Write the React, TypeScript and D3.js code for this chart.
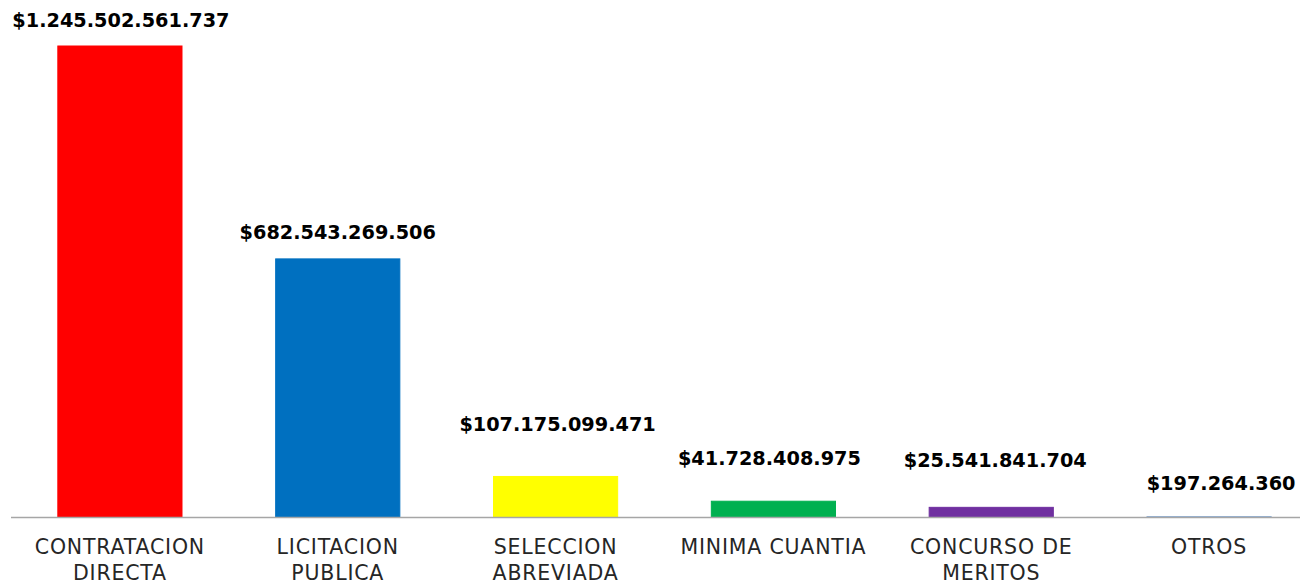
import React, { useEffect, useRef } from "react";
import * as d3 from "d3";

// modalidades de contratacion
const categories = [
  ["CONTRATACION", "DIRECTA"],
  ["LICITACION", "PUBLICA"],
  ["SELECCION", "ABREVIADA"],
  ["MINIMA CUANTIA"],
  ["CONCURSO DE", "MERITOS"],
  ["OTROS"],
];
const values = [
  1245502561737, 682543269506, 107175099471, 41728408975, 25541841704, 197264360,
];
const valueLabels = [
  "$1.245.502.561.737",
  "$682.543.269.506",
  "$107.175.099.471",
  "$41.728.408.975",
  "$25.541.841.704",
  "$197.264.360",
];
const colors = ["#FF0000", "#0070C0", "#FFFF00", "#00B050", "#7030A0", "#4F81BD"];

// labels were dragged by hand in the original, so keep their offsets (px)
const labelDy = [19, 20, 45, 36, 40, 27];
const labelDx = [1, 0, 2, -4, 4, 12];

const width = 1300;
const height = 583;

const App = () => {
  const svgRef = useRef<SVGSVGElement>(null);

  useEffect(() => {
    const svg = d3.select(svgRef.current);
    svg.selectAll("*").remove();

    const idx = values.map((_, i) => i);

    const x = d3
      .scaleBand<number>()
      .domain(idx)
      .range([11, 1318])
      .paddingInner(0.43)
      .paddingOuter(0.215);

    const y = d3.scaleLinear().domain([0, values[0]]).range([517, 46]);

    // bars
    svg
      .selectAll("rect.bar")
      .data(idx)
      .enter()
      .append("rect")
      .attr("class", "bar")
      .attr("x", (i) => x(i)!)
      .attr("y", (i) => y(values[i]))
      .attr("width", x.bandwidth())
      .attr("height", (i) => y(0) - y(values[i]))
      .attr("fill", (i) => colors[i])
      .attr("stroke", (i) => colors[i])
      .attr("stroke-width", 1);

    // axis line
    svg
      .append("line")
      .attr("x1", 11)
      .attr("x2", width)
      .attr("y1", y(0) + 0.5)
      .attr("y2", y(0) + 0.5)
      .attr("stroke", "#A6A6A6")
      .attr("stroke-width", 1.5);

    // value labels
    svg
      .selectAll("text.val")
      .data(idx)
      .enter()
      .append("text")
      .attr("class", "val")
      .attr("x", (i) => x(i)! + x.bandwidth() / 2 + labelDx[i])
      .attr("y", (i) => y(values[i]) - labelDy[i])
      .attr("text-anchor", "middle")
      .style("font-family", "'DejaVu Sans', sans-serif")
      .style("font-weight", "bold")
      .style("font-size", "19.3px")
      .style("fill", "#000")
      .text((i) => valueLabels[i]);

    // category labels
    const cat = svg
      .selectAll("text.cat")
      .data(idx)
      .enter()
      .append("text")
      .attr("class", "cat")
      .attr("x", (i) => x(i)! + x.bandwidth() / 2)
      .attr("y", 554)
      .attr("text-anchor", "middle")
      .style("font-family", "'DejaVu Sans', sans-serif")
      .style("font-size", "20.5px")
      .style("letter-spacing", "0.8px")
      .style("fill", "#262626");

    cat
      .selectAll("tspan")
      .data((i) => categories[i].map((t) => ({ t, cx: x(i)! + x.bandwidth() / 2 })))
      .enter()
      .append("tspan")
      .attr("x", (d) => d.cx)
      .attr("dy", (_, j) => (j === 0 ? 0 : 26))
      .text((d) => d.t);
  }, []);

  return (
    <svg
      ref={svgRef}
      width={width}
      height={height}
      style={{ position: "absolute", left: 0, top: 0, background: "#fff" }}
    ></svg>
  );
};

export default App;
